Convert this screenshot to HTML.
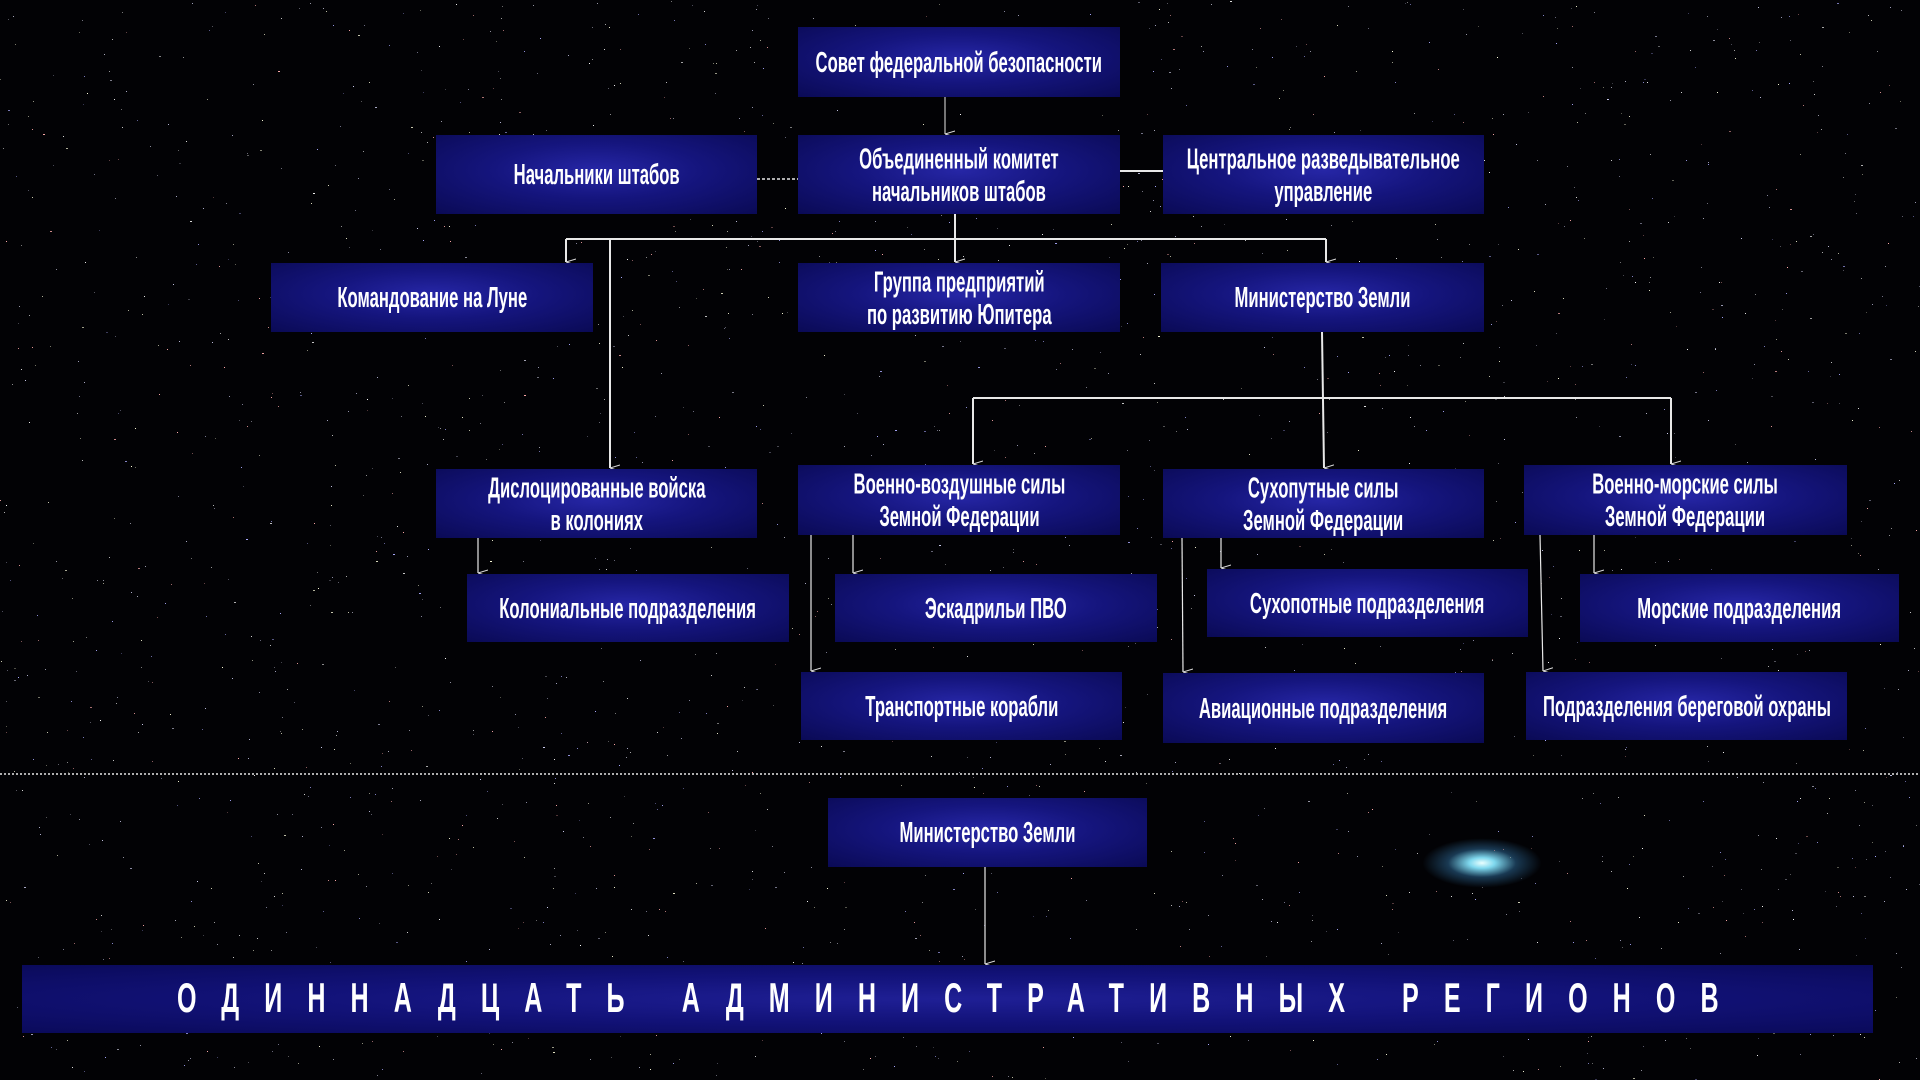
<!DOCTYPE html>
<html><head><meta charset="utf-8"><style>
html,body{margin:0;padding:0;background:#000;}
#c{position:relative;width:1920px;height:1080px;overflow:hidden;background:#020205;}
.b{position:absolute;box-sizing:border-box;display:flex;align-items:center;justify-content:center;text-align:center;color:#fff;
font-family:"Liberation Sans",sans-serif;font-weight:bold;font-size:26px;line-height:29px;white-space:nowrap;
background:radial-gradient(ellipse at 50% 45%,#2626a6 0%,#15157e 45%,#0a0a55 100%);}
.b span{display:inline-block;transform:scale(0.64,1.12);}
svg{position:absolute;left:0;top:0;}
</style></head><body><div id="c">
<div style="position:absolute;left:1422px;top:838px;width:120px;height:50px;background:radial-gradient(ellipse at center,#eaffff 0%,#7fd8ee 15%,rgba(60,140,200,0.4) 40%,rgba(0,0,0,0) 70%);"></div>
<svg width="1920" height="1080" id="stars"></svg>
<svg width="1920" height="1080">
<defs><marker id="a" markerWidth="8" markerHeight="10" refX="4" refY="10" orient="auto-start-reverse" markerUnits="userSpaceOnUse"><path d="M1,0 L4,10 L7,0" fill="none" stroke="#ddd" stroke-width="1"/></marker></defs>
<g stroke="#e8e8e8" stroke-width="2" fill="none">
<line x1="945" y1="97" x2="945" y2="134" marker-end="url(#a)" stroke-width="1"/>
<line x1="757" y1="179" x2="798" y2="179" stroke-dasharray="3,2" stroke-width="1.5"/>
<line x1="1120" y1="171" x2="1163" y2="171"/>
<line x1="955" y1="214" x2="955" y2="262" marker-end="url(#a)"/>
<line x1="566" y1="239" x2="1326" y2="239"/>
<line x1="566" y1="239" x2="566" y2="262" marker-end="url(#a)"/>
<line x1="1326" y1="239" x2="1326" y2="262" marker-end="url(#a)"/>
<line x1="610" y1="239" x2="610" y2="468" marker-end="url(#a)"/>
<line x1="1322" y1="332" x2="1324" y2="468" marker-end="url(#a)"/>
<line x1="973" y1="398" x2="1671" y2="398"/>
<line x1="973" y1="398" x2="973" y2="464" marker-end="url(#a)"/>
<line x1="1671" y1="398" x2="1671" y2="464" marker-end="url(#a)"/>
<g stroke-width="1.2">
<line x1="478" y1="538" x2="478" y2="573" marker-end="url(#a)"/>
<line x1="853" y1="535" x2="853" y2="573" marker-end="url(#a)"/>
<line x1="811" y1="535" x2="811" y2="671" marker-end="url(#a)"/>
<line x1="1221" y1="538" x2="1221" y2="568" marker-end="url(#a)"/>
<line x1="1182" y1="538" x2="1183" y2="672" marker-end="url(#a)"/>
<line x1="1594" y1="535" x2="1594" y2="573" marker-end="url(#a)"/>
<line x1="1540" y1="535" x2="1543" y2="671" marker-end="url(#a)"/>
<line x1="985" y1="867" x2="985" y2="964" marker-end="url(#a)"/>
</g>
<line x1="0" y1="774" x2="1920" y2="774" stroke-dasharray="2,2" stroke-width="1.5"/>
</g></svg>
<div class="b" style="left:798px;top:27px;width:322px;height:70px"><span>Совет федеральной безопасности</span></div>
<div class="b" style="left:436px;top:135px;width:321px;height:79px"><span>Начальники штабов</span></div>
<div class="b" style="left:798px;top:135px;width:322px;height:79px"><span>Объединенный комитет<br>начальников штабов</span></div>
<div class="b" style="left:1163px;top:135px;width:321px;height:79px"><span>Центральное разведывательное<br>управление</span></div>
<div class="b" style="left:271px;top:263px;width:322px;height:69px"><span>Командование на Луне</span></div>
<div class="b" style="left:798px;top:263px;width:322px;height:69px"><span>Группа предприятий<br>по развитию Юпитера</span></div>
<div class="b" style="left:1161px;top:263px;width:323px;height:69px"><span>Министерство Земли</span></div>
<div class="b" style="left:436px;top:469px;width:321px;height:69px"><span>Дислоцированные войска<br>в колониях</span></div>
<div class="b" style="left:798px;top:465px;width:322px;height:70px"><span>Военно-воздушные силы<br>Земной Федерации</span></div>
<div class="b" style="left:1163px;top:469px;width:321px;height:69px"><span>Сухопутные силы<br>Земной Федерации</span></div>
<div class="b" style="left:1524px;top:465px;width:323px;height:70px"><span>Военно-морские силы<br>Земной Федерации</span></div>
<div class="b" style="left:467px;top:574px;width:322px;height:68px"><span>Колониальные подразделения</span></div>
<div class="b" style="left:835px;top:574px;width:322px;height:68px"><span>Эскадрильи ПВО</span></div>
<div class="b" style="left:1207px;top:569px;width:321px;height:68px"><span>Сухопотные подразделения</span></div>
<div class="b" style="left:1580px;top:574px;width:319px;height:68px"><span>Морские подразделения</span></div>
<div class="b" style="left:801px;top:672px;width:321px;height:68px"><span>Транспортные корабли</span></div>
<div class="b" style="left:1163px;top:673px;width:321px;height:70px"><span>Авиационные подразделения</span></div>
<div class="b" style="left:1526px;top:672px;width:321px;height:68px"><span>Подразделения береговой охраны</span></div>
<div class="b" style="left:828px;top:798px;width:319px;height:69px"><span>Министерство Земли</span></div>
<div class="b" style="left:22px;top:965px;width:1851px;height:68px;font-size:44px;letter-spacing:38px;background:radial-gradient(ellipse at 50% 50%,#1f1f95 0%,#121278 50%,#0a0a5a 100%)"><span style="transform:scale(0.66,1.1);text-transform:uppercase;font-size:38px;padding-left:38px">Одиннадцать административных регионов</span></div>
</div>
<script>
var s=document.getElementById('stars'),h='',x=12345;
function r(){x=(x*1103515245+12345)%2147483648;return x/2147483648;}
var cols=['#ffffff','#aab','#cce','#faa','#aaf','#ffd'];
for(var i=0;i<2500;i++){h+='<rect x="'+(r()*1920).toFixed(0)+'" y="'+(r()*1080).toFixed(0)+'" width="'+(r()<0.9?1:2)+'" height="1" fill="'+cols[Math.floor(r()*6)]+'" opacity="'+(0.3+r()*0.7).toFixed(2)+'"/>';}
s.innerHTML=h;
</script>
</body></html>
